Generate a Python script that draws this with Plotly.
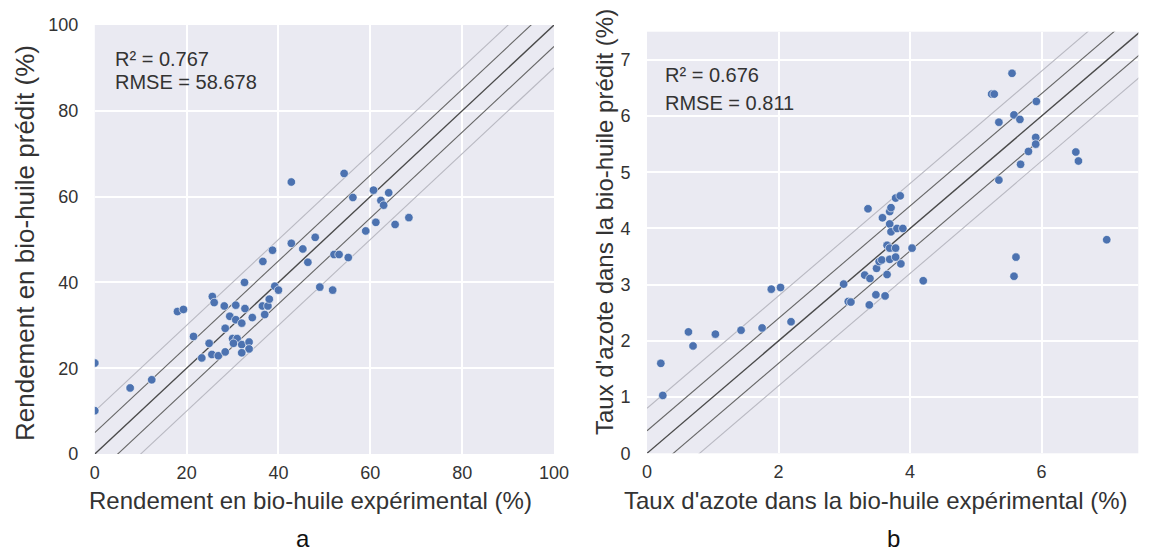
import plotly.graph_objects as go

# ---- Data: panel a (bio-oil yield, %) ----
exp_a = [0, 0, 7.7, 12.4, 18.0, 19.3, 21.5, 23.3, 24.9, 25.6, 26.0, 25.5, 26.9, 28.2, 28.4,
         28.4, 29.4, 30.7, 30.7, 30.0, 31.0, 30.2, 32.0, 32.7, 32.6, 32.0, 33.6, 33.6, 32.0,
         34.3, 36.5, 37.7, 38.0, 37.0, 36.6, 38.7, 39.2, 40.0, 42.8, 42.8, 45.3, 46.4, 48.0,
         49.0, 51.8, 52.1, 53.2, 54.3, 55.2, 56.2, 59.0, 60.7, 61.2, 62.3, 62.9, 64.0, 65.4, 68.4]
pred_a = [21.2, 10.1, 15.4, 17.3, 33.2, 33.7, 27.4, 22.4, 25.8, 36.7, 35.3, 23.2, 22.9, 34.5,
          23.8, 29.3, 32.1, 34.7, 31.3, 26.9, 26.9, 25.8, 30.5, 33.9, 40.0, 25.5, 26.1, 24.5,
          23.6, 31.8, 34.5, 34.5, 36.1, 32.5, 44.9, 47.5, 39.1, 38.2, 63.4, 49.1, 47.8, 44.7,
          50.5, 38.9, 38.2, 46.5, 46.5, 65.4, 45.8, 59.8, 52.0, 61.5, 54.0, 59.1, 58.0, 60.9,
          53.5, 55.1]

# ---- Data: panel b (nitrogen content, %) ----
exp_b = [0.21, 0.24, 0.63, 0.70, 1.04, 1.43, 1.75, 1.89, 2.03, 2.19, 2.99, 3.06, 3.10, 3.36,
         3.31, 3.39, 3.38, 3.48, 3.49, 3.53, 3.57, 3.58, 3.62, 3.65, 3.65, 3.69, 3.69, 3.69,
         3.71, 3.69, 3.71, 3.78, 3.85, 3.78, 3.78, 3.80, 3.89, 3.86, 4.03, 4.20, 5.24, 5.28,
         5.55, 5.35, 5.35, 5.58, 5.67, 5.92, 5.91, 5.91, 5.80, 5.68, 5.61, 5.58, 6.52, 6.56, 6.99]
pred_b = [1.60, 1.03, 2.16, 1.91, 2.12, 2.19, 2.23, 2.92, 2.95, 2.34, 3.01, 2.70, 2.69, 4.35,
          3.17, 3.11, 2.64, 2.82, 3.29, 3.41, 3.44, 4.19, 2.80, 3.18, 3.70, 3.65, 3.45, 4.08,
          3.94, 4.30, 4.37, 4.54, 4.58, 3.65, 3.49, 4.00, 4.00, 3.37, 3.65, 3.07, 6.39, 6.39,
          6.76, 5.89, 4.86, 6.02, 5.94, 6.26, 5.62, 5.50, 5.37, 5.14, 3.49, 3.15, 5.36, 5.20, 3.80]

# reference lines y = x + offset
offsets_a = [-10, -5, 0, 5, 10]
offsets_b = [-0.8, -0.4, 0, 0.4, 0.8]
line_x_a = [0, 100]
line_x_b = [0, 7.5]

stats_a = ["R² = 0.767", "RMSE = 58.678"]
stats_b = ["R² = 0.676", "RMSE = 0.811"]

xtitle_a = "Rendement en bio-huile expérimental (%)"
ytitle_a = "Rendement en bio-huile prédit (%)"
xtitle_b = "Taux d'azote dans la bio-huile expérimental (%)"
ytitle_b = "Taux d'azote dans la bio-huile prédit (%)"
panel_labels = ["a", "b"]

FONT = "Liberation Sans, Arial, sans-serif"
TXT = "#333333"
BG = "#EAEAF2"
DOT = "#4C72B0"

# page body has an 8px margin: figure is 1161x546 so it fits a 1169x554 window
W, H = 1161, 546


def line_style(k):
    a = abs(k)
    if a == 0:
        return dict(color="#4a4a4a", width=1.4)
    if a == 1:
        return dict(color="#666666", width=1.1)
    return dict(color="#b9b9c2", width=1.1)


fig = go.Figure()

for offs, lx, xa, ya in [(offsets_a, line_x_a, "x", "y"), (offsets_b, line_x_b, "x2", "y2")]:
    n = len(offs) // 2
    for i, o in enumerate(offs):
        fig.add_trace(go.Scatter(x=lx, y=[v + o for v in lx], mode="lines",
                                 line=line_style(i - n), xaxis=xa, yaxis=ya,
                                 showlegend=False, hoverinfo="skip"))

fig.add_trace(go.Scatter(x=exp_a, y=pred_a, mode="markers", xaxis="x", yaxis="y",
                         marker=dict(color=DOT, size=8.5, line=dict(color="white", width=0.6)),
                         showlegend=False))
fig.add_trace(go.Scatter(x=exp_b, y=pred_b, mode="markers", xaxis="x2", yaxis="y2",
                         marker=dict(color=DOT, size=8.5, line=dict(color="white", width=0.6)),
                         showlegend=False))

axis_common = dict(showgrid=True, gridcolor="white", gridwidth=1.5, zeroline=False,
                   showline=False, ticks="outside", tickcolor="rgba(0,0,0,0)",
                   automargin=False,
                   tickfont=dict(family=FONT, size=18, color=TXT))

fig.update_layout(
    width=W, height=H,
    margin=dict(l=0, r=0, t=0, b=0),
    paper_bgcolor="white", plot_bgcolor=BG,
    font=dict(family=FONT, color=TXT),
    xaxis=dict(domain=[0.07476, 0.47028], range=[0, 100], tickvals=[0, 20, 40, 60, 80, 100],
               ticklen=2, anchor="y", **axis_common),
    yaxis=dict(domain=[0.18315, 0.96886], range=[0, 100], tickvals=[0, 20, 40, 60, 80, 100],
               ticklen=12, anchor="x", **axis_common),
    xaxis2=dict(domain=[0.55039, 0.97356], range=[0, 7.47], tickvals=[0, 2, 4, 6],
                ticklen=2, anchor="y2", **axis_common),
    yaxis2=dict(domain=[0.18443, 0.95659], range=[0, 7.5], tickvals=[0, 1, 2, 3, 4, 5, 6, 7],
                ticklen=12, anchor="x2", **axis_common),
)

ann = []
# stats text, placed in data coordinates of each panel
for i, t in enumerate(stats_a):
    ann.append(dict(x=4.0, y=92.1 - i * 5.4, xref="x", yref="y", text=t, showarrow=False,
                    xanchor="left", yanchor="middle",
                    font=dict(family=FONT, size=20, color=TXT)))
for i, t in enumerate(stats_b):
    ann.append(dict(x=0.25, y=6.73 - i * 0.5, xref="x2", yref="y2", text=t, showarrow=False,
                    xanchor="left", yanchor="middle",
                    font=dict(family=FONT, size=20, color=TXT)))

# axis titles (positioned as in the reference, which is not exactly centred)
for t, cx, cy, ang, sz in [(xtitle_a, 302.8, 492, 0, 24), (xtitle_b, 868, 492, 0, 24),
                           (ytitle_a, 17, 235, -90, 26), (ytitle_b, 597, 214, -90, 24)]:
    ann.append(dict(x=cx / W, y=1 - cy / H, xref="paper", yref="paper", text=t,
                    textangle=ang, showarrow=False, xanchor="center", yanchor="middle",
                    font=dict(family=FONT, size=sz, color=TXT)))

for lab, px in zip(panel_labels, [295 / W, 885 / W]):
    ann.append(dict(x=px, y=0, xref="paper", yref="paper", text=lab,
                    showarrow=False, xanchor="center", yanchor="bottom",
                    font=dict(family=FONT, size=24, color="#111111")))
fig.update_layout(annotations=ann)

fig.write_html("out.html")
